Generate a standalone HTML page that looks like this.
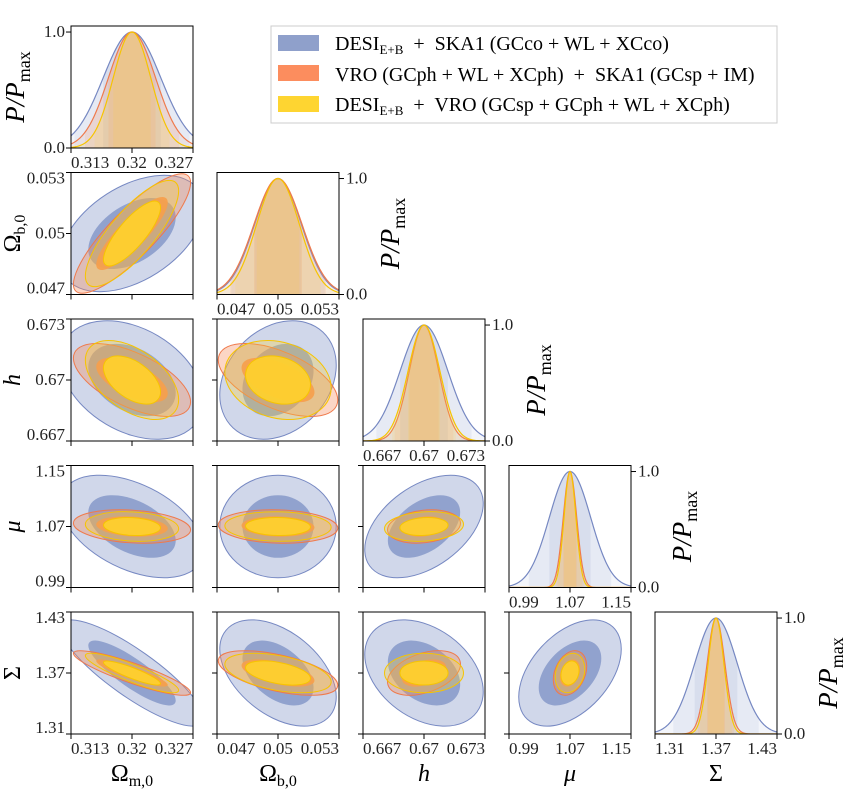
<!DOCTYPE html>
<html><head><meta charset="utf-8">
<style>
html,body{margin:0;padding:0;background:#fff;}
svg{display:block;font-family:"Liberation Serif","DejaVu Serif",serif;}
svg text{white-space:pre;}
</style></head>
<body>
<svg id="chart" width="851" height="801" viewBox="0 0 851 801" xmlns="http://www.w3.org/2000/svg" xml:space="preserve">
  <g id="panels"></g>
  <g>
    <rect x="271" y="26" width="506" height="97" fill="#fff" stroke="#cccccc" stroke-width="1"/>
    <g>
      <rect x="278" y="35" width="41" height="16" fill="#8fa0cb"/>
      <text x="335" y="50" font-size="20">DESI<tspan font-size="13" dy="4">E+B</tspan><tspan dy="-4">  +  SKA1 (GCco + WL + XCco)</tspan></text>
    </g>
    <g>
      <rect x="278" y="65" width="41" height="16" fill="#fc8d5e"/>
      <text x="335" y="81" font-size="20">VRO (GCph + WL + XCph)  +  SKA1 (GCsp + IM)</text>
    </g>
    <g>
      <rect x="278" y="96" width="41" height="16" fill="#fed531"/>
      <text x="335" y="111" font-size="20">DESI<tspan font-size="13" dy="4">E+B</tspan><tspan dy="-4">  +  VRO (GCsp + GCph + WL + XCph)</tspan></text>
    </g>
  </g>
</svg>
<script>
// ---- data ----
const paramNames = ["Omega_m0","Omega_b0","h","mu","Sigma"];
const fiducial = [0.32, 0.05, 0.67, 1.07, 1.37];
const rangeLo = [0.313, 0.047, 0.667, 0.99, 1.31];
const rangeHi = [0.327, 0.053, 0.673, 1.15, 1.43];
const tickValues = [[0.313,0.32,0.327],[0.047,0.05,0.053],[0.667,0.67,0.673],[0.99,1.07,1.15],[1.31,1.37,1.43]];
const tickLabels = [["0.313","0.32","0.327"],["0.047","0.05","0.053"],["0.667","0.67","0.673"],["0.99","1.07","1.15"],["1.31","1.37","1.43"]];
// pair order: (0,1),(0,2),(0,3),(0,4),(1,2),(1,3),(1,4),(2,3),(2,4),(3,4)
const pairList = [[0,1],[0,2],[0,3],[0,4],[1,2],[1,3],[1,4],[2,3],[2,4],[3,4]];
const sigmaBlue   = [0.0033, 0.00115, 0.00117, 0.027, 0.021];
const sigmaOrange = [0.0027, 0.00118, 0.00072, 0.0088, 0.0088];
const sigmaYellow = [0.00215, 0.00105, 0.00078, 0.0078, 0.0078];
const corrBlue   = [0.45, -0.35, -0.45, -0.85, 0.25, 0.0, -0.45, 0.45, -0.35, 0.45];
const corrOrange = [0.85, -0.6, -0.2, -0.88, -0.55, -0.1, -0.55, 0.2, 0.4, 0.3];
const corrYellow = [0.8, -0.5, -0.15, -0.88, -0.2, -0.05, -0.45, 0.15, 0.0, 0.2];
const meanBlue = [0.32, 0.05, 0.67, 1.07, 1.37];
const meanOrange = [0.32, 0.05, 0.67, 1.07, 1.37];
const meanYellow = [0.32, 0.05, 0.67, 1.07, 1.37];

// ---- layout ----
const NS = "http://www.w3.org/2000/svg";
const colX = [71, 217, 363, 509, 655];
const rowY = [26, 172.5, 319, 465.5, 612];
const PW = 122, PH = 122;
const series = [
  {key:"blue", sig:sigmaBlue, corr:corrBlue, mean:meanBlue, fill:"#8a9ccb", stroke:"#7688c2", o2:0.4, o1:0.9, innerStroke:false},
  {key:"orange", sig:sigmaOrange, corr:corrOrange, mean:meanOrange, fill:"#f58a58", stroke:"#ef7a4c", o2:0.35, o1:0.9, innerStroke:false},
  {key:"yellow", sig:sigmaYellow, corr:corrYellow, mean:meanYellow, fill:"#fdd02e", stroke:"#f6c400", o2:0.3, o1:0.95, innerStroke:true}
];
const root = document.getElementById("panels");
function el(tag, attrs, parent){const e=document.createElementNS(NS,tag);for(const k in attrs)e.setAttribute(k,attrs[k]);(parent||root).appendChild(e);return e;}
function xScale(p,c,v){return colX[c]+(v-rangeLo[p])/(rangeHi[p]-rangeLo[p])*PW;}
function yScale(p,r,v){return rowY[r]+PH-(v-rangeLo[p])/(rangeHi[p]-rangeLo[p])*PH;}
function pairIndex(a,b){for(let i=0;i<pairList.length;i++){if(pairList[i][0]===a&&pairList[i][1]===b)return i;}return -1;}

function tickText(x,y,txt,anchor,parent,name){
  const t=el("text",{x:x,y:y,"font-size":17,"text-anchor":anchor,fill:"#222"},parent);
  t.textContent=txt;
  
  
  return t;
}

for(let r=0;r<5;r++){
  for(let c=0;c<=r;c++){
    const g=el("g",{});
    
    
    const cid="clip"+r+"_"+c;
    const cp=el("clipPath",{id:cid},g);
    el("rect",{x:colX[c],y:rowY[r],width:PW,height:PH},cp);
    const inner=el("g",{"clip-path":"url(#"+cid+")"},g);
    if(r===c){
      const p=c;
      const ymax=1.052;
      const yv=v=>rowY[r]+PH-v/ymax*PH;
      series.forEach(s=>{
        const mu=s.mean[p], sg=s.sig[p];
        const N=120;
        function curvePts(a,b){let pts=[];for(let i=0;i<=N;i++){const v=a+(b-a)*i/N;const d=(v-mu)/sg;pts.push([xScale(p,c,v),yv(Math.exp(-0.5*d*d))]);}return pts;}
        const lo=rangeLo[p], hi=rangeHi[p];
        const area=(a,b,op)=>{const pts=curvePts(Math.max(a,lo),Math.min(b,hi));let d="M"+pts[0][0]+","+yv(0);pts.forEach(q=>d+="L"+q[0].toFixed(2)+","+q[1].toFixed(2));d+="L"+pts[pts.length-1][0]+","+yv(0)+"Z";
          const e=el("path",{d:d,fill:s.fill,opacity:op},inner);
          
          };
        area(lo,hi,0.1);
        area(mu-2*sg,mu+2*sg,0.12);
        area(mu-sg,mu+sg,0.15);
        const pts=curvePts(lo,hi);
        const line=el("path",{d:"M"+pts.map(q=>q[0].toFixed(2)+","+q[1].toFixed(2)).join("L"),fill:"none",stroke:s.stroke,"stroke-width":1.2},inner);
        
        
      });
      const right = c>0;
      const ax = right ? colX[c]+PW : colX[c];
      [0,1].forEach(v=>{
        const y=yv(v);
        el("line",{x1:ax,x2:right?ax+5:ax-5,y1:y,y2:y,stroke:"#000","stroke-width":1},g);
        tickText(right?ax+7:ax-6, y+5, v.toFixed(1), right?"start":"end", g, 'y-tick-label');
      });
      const lx = right ? colX[c]+PW+60 : 24;
      const ly = rowY[r]+PH/2;
      const lab=el("text",{x:0,y:0,"font-size":27,"text-anchor":"middle",transform:"translate("+lx+","+ly+") rotate(-90)","font-style":"italic"},g);
      lab.innerHTML='P/P<tspan font-size="18" font-style="normal" dy="6">max</tspan>';
      
      
    } else {
      const px=c, py=r;
      const idx=pairIndex(c,r);
      series.forEach(s=>{
        const sx=s.sig[px]*PW/(rangeHi[px]-rangeLo[px]);
        const sy=s.sig[py]*PH/(rangeHi[py]-rangeLo[py]);
        const rho=-s.corr[idx];
        const a=sx*sx, b=rho*sx*sy, d=sy*sy;
        const tr=(a+d)/2, det=Math.sqrt(((a-d)/2)**2+b*b);
        const l1=tr+det, l2=Math.max(tr-det,1e-9);
        const ang=0.5*Math.atan2(2*b,a-d)*180/Math.PI;
        const cx=xScale(px,c,s.mean[px]), cy=yScale(py,r,s.mean[py]);
        [[2.49,s.o2,true],[1.52,s.o1,s.innerStroke]].forEach(([k,op,st])=>{
          const e=el("ellipse",{cx:cx,cy:cy,rx:k*Math.sqrt(l1),ry:k*Math.sqrt(l2),transform:"rotate("+ang+" "+cx+" "+cy+")",fill:s.fill,"fill-opacity":op,stroke:st?s.stroke:"none","stroke-width":1},inner);
          
          
        });
      });
      tickValues[py].forEach((v,i)=>{
        const y=yScale(py,r,v);
        el("line",{x1:colX[c],x2:colX[c]-5,y1:y,y2:y,stroke:"#000","stroke-width":1},g);
        if(c===0){
          const yy = i===0 ? y-1 : (i===2 ? y+11 : y+5);
          tickText(colX[c]-6,yy,tickLabels[py][i],"end",g,'y-tick-label');
        }
      });
    }
    tickValues[c].forEach((v,i)=>{
      const x=xScale(c,c,v);
      el("line",{x1:x,x2:x,y1:rowY[r]+PH,y2:rowY[r]+PH+5,stroke:"#000","stroke-width":1},g);
      if(r===c||r===4){
        const anchor = i===0 ? "start" : (i===2 ? "end" : "middle");
        tickText(x,rowY[r]+PH+20,tickLabels[c][i],anchor,g,'x-tick-label');
      }
    });
    el("rect",{x:colX[c],y:rowY[r],width:PW,height:PH,fill:"none",stroke:"#000","stroke-width":1},g);
  }
}
const yTitles=['<tspan>Ω</tspan><tspan font-size="16" dy="5">b,0</tspan>','<tspan font-style="italic">h</tspan>','<tspan font-style="italic">μ</tspan>','<tspan>Σ</tspan>'];
yTitles.forEach((t,i)=>{
  const r=i+1;
  const e=el("text",{x:0,y:0,"font-size":24,"text-anchor":"middle",transform:"translate(20,"+(rowY[r]+PH/2)+") rotate(-90)"});
  e.innerHTML=t;
  
  
});
const xTitles=['<tspan>Ω</tspan><tspan font-size="16" dy="5">m,0</tspan>','<tspan>Ω</tspan><tspan font-size="16" dy="5">b,0</tspan>','<tspan font-style="italic">h</tspan>','<tspan font-style="italic">μ</tspan>','<tspan>Σ</tspan>'];
xTitles.forEach((t,c)=>{
  const e=el("text",{x:colX[c]+PW/2,y:781,"font-size":24,"text-anchor":"middle"});
  e.innerHTML=t;
  
  
});
</script>
</body></html>
